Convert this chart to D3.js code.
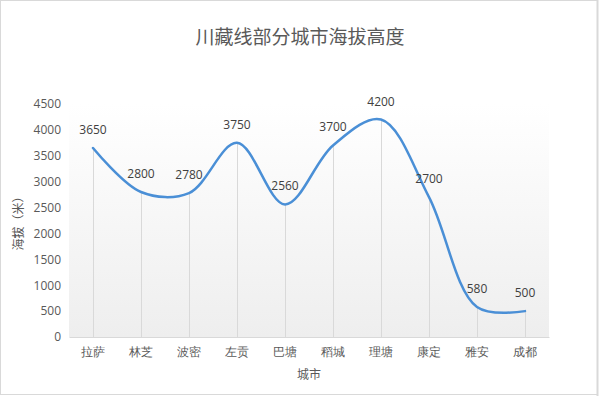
<!DOCTYPE html>
<html>
<head>
<meta charset="utf-8">
<script src="https://cdn.jsdelivr.net/npm/d3@7"></script>
<style>
    body { margin: 0; background: #fff; }
    svg { display: block; font-family: "Noto Sans CJK SC", "Microsoft YaHei", sans-serif; }
</style>
</head>
<body>
<svg id="chart"></svg>
<script>
// DATA
var cities = ["拉萨", "林芝", "波密", "左贡", "巴塘", "稻城", "理塘", "康定", "雅安", "成都"];
var altitudes = [3650, 2800, 2780, 3750, 2560, 3700, 4200, 2700, 580, 500];
var yTicks = [0, 500, 1000, 1500, 2000, 2500, 3000, 3500, 4000, 4500];

var width = 600, height = 397;
var plotLeft = 69, plotRight = 549, plotTop = 104, plotBottom = 337;

var svg = d3.select("#chart").attr("width", width).attr("height", height);

// outer border
svg.append("rect")
    .attr("x", 0.5).attr("y", 0.5)
    .attr("width", width - 3).attr("height", height - 3)
    .attr("fill", "#fff")
    .attr("stroke", "#d9d9d9");
svg.append("line")
    .attr("x1", 597.5).attr("x2", 597.5).attr("y1", 0).attr("y2", 396)
    .attr("stroke", "#d9d9d9").attr("stroke-width", 2);

// plot area gradient
var grad = svg.append("defs").append("linearGradient")
    .attr("id", "plotbg").attr("x1", 0).attr("y1", 0).attr("x2", 0).attr("y2", 1);
grad.append("stop").attr("offset", "0%").attr("stop-color", "#ffffff");
grad.append("stop").attr("offset", "100%").attr("stop-color", "#eeeeee");

svg.append("rect")
    .attr("x", plotLeft).attr("y", plotTop)
    .attr("width", plotRight - plotLeft).attr("height", plotBottom - plotTop)
    .attr("fill", "url(#plotbg)");

var x = d3.scaleBand().domain(cities).range([plotLeft, plotRight]);
var y = d3.scaleLinear().domain([0, 4500]).range([plotBottom, plotTop]);

function cx(d) { return x(d) + x.bandwidth() / 2; }

// title
svg.append("text")
    .attr("x", 300).attr("y", 44)
    .attr("text-anchor", "middle")
    .attr("font-size", "19px")
    .attr("fill", "#595959")
    .text("川藏线部分城市海拔高度");

// y axis labels
var yAxis = svg.append("g")
    .attr("transform", "translate(" + (plotLeft - 8) + ",0)")
    .call(d3.axisLeft(y).tickValues(yTicks).tickFormat(d3.format("d")).tickSize(0).tickPadding(0));
yAxis.select(".domain").remove();
yAxis.selectAll("text")
    .attr("font-size", "12px")
    .attr("fill", "#595959")
    .attr("font-family", "'Open Sans', 'Noto Sans', sans-serif");

// drop lines
svg.append("g").selectAll("line")
    .data(cities).enter().append("line")
    .attr("x1", function (d) { return cx(d) + 0.5; })
    .attr("x2", function (d) { return cx(d) + 0.5; })
    .attr("y1", function (d, i) { return y(altitudes[i]); })
    .attr("y2", plotBottom)
    .attr("stroke", "#d9d9d9")
    .attr("stroke-width", 1);

// x axis
var xAxis = svg.append("g")
    .attr("transform", "translate(0," + plotBottom + ")")
    .call(d3.axisBottom(x).tickSize(0).tickPadding(10));
xAxis.select(".domain").attr("stroke", "#d9d9d9");
xAxis.selectAll("text")
    .attr("font-size", "12px")
    .attr("fill", "#595959");

// smoothed line (centripetal keeps the short flat end from overshooting)
var line = d3.line()
    .x(function (d) { return cx(d.city); })
    .y(function (d) { return y(d.value); })
    .curve(d3.curveCatmullRom.alpha(0.5));

var points = cities.map(function (c, i) { return { city: c, value: altitudes[i] }; });

svg.append("path")
    .datum(points)
    .attr("d", line)
    .attr("fill", "none")
    .attr("stroke", "#4a8fd6")
    .attr("stroke-width", 2.5)
    .attr("stroke-linecap", "round");

// data labels
svg.append("g").selectAll("text")
    .data(points).enter().append("text")
    .attr("x", function (d) { return cx(d.city); })
    .attr("y", function (d) { return y(d.value) - 14; })
    .attr("text-anchor", "middle")
    .attr("font-size", "12px")
    .attr("fill", "#404040")
    .attr("font-family", "'Open Sans', 'Noto Sans', sans-serif")
    .text(function (d) { return d.value; });

// axis titles
svg.append("text")
    .attr("transform", "translate(23," + ((plotTop + plotBottom) / 2) + ") rotate(-90)")
    .attr("text-anchor", "middle")
    .attr("font-size", "12px")
    .attr("fill", "#595959")
    .text("海拔（米）");

svg.append("text")
    .attr("x", (plotLeft + plotRight) / 2).attr("y", 379)
    .attr("text-anchor", "middle")
    .attr("font-size", "12px")
    .attr("fill", "#595959")
    .text("城市");
</script>
</body>
</html>
